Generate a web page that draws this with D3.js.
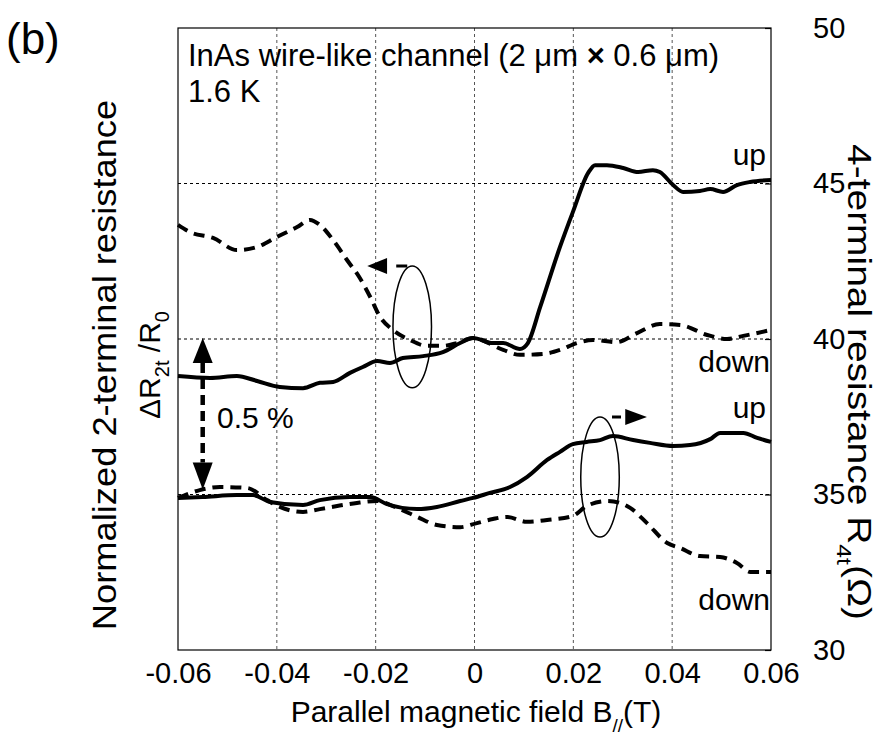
<!DOCTYPE html>
<html><head><meta charset="utf-8">
<script src="https://cdn.jsdelivr.net/npm/d3@7"></script>
<style>
html,body{margin:0;padding:0;background:#fff;}
svg{display:block;font-family:"Liberation Sans",Arial,sans-serif;}
</style></head>
<body>
<svg id="chart" width="887" height="748"></svg>
<script>
// ---- data ----
const xTicks = [-0.06, -0.04, -0.02, 0, 0.02, 0.04, 0.06];
const xTickLabels = ["-0.06", "-0.04", "-0.02", "0", "0.02", "0.04", "0.06"];
const rTicks = [30, 35, 40, 45, 50];
const rTickLabels = ["30", "35", "40", "45", "50"];

// 2-terminal (left axis, ΔR/R0 in %)
const twoUpB = [-0.060,-0.0535,-0.0481,-0.0440,-0.0394,-0.0347,-0.0313,-0.0286,-0.0252,-0.0226,-0.0197,-0.0171,-0.0145,-0.0104,-0.0064,-0.0029,-0.0003,0.0037,0.0058,0.0092,0.0108,0.0133,0.0173,0.0199,0.0230,0.0244,0.0268,0.0301,0.0331,0.0361,0.0375,0.0402,0.0422,0.0456,0.0477,0.0503,0.0531,0.0558,0.0600];
const twoUpR = [-0.119,-0.125,-0.119,-0.135,-0.154,-0.158,-0.141,-0.138,-0.109,-0.090,-0.071,-0.077,-0.061,-0.055,-0.042,-0.013,0.003,-0.013,-0.013,-0.032,-0.013,0.103,0.296,0.408,0.534,0.559,0.559,0.550,0.537,0.543,0.537,0.495,0.473,0.476,0.482,0.473,0.495,0.505,0.511];

const twoDownB = [-0.060,-0.0576,-0.0529,-0.0481,-0.0440,-0.0400,-0.0359,-0.0333,-0.0313,-0.0286,-0.0258,-0.0232,-0.0211,-0.0191,-0.0165,-0.0131,-0.0096,-0.0064,-0.0035,-0.0003,0.0058,0.0092,0.0139,0.0173,0.0207,0.0240,0.0288,0.0329,0.0375,0.0416,0.0471,0.0511,0.0544,0.0600];
const twoDownR = [0.367,0.344,0.325,0.286,0.296,0.328,0.360,0.383,0.367,0.318,0.254,0.196,0.135,0.071,0.029,-0.003,-0.022,-0.022,-0.013,0.003,-0.035,-0.051,-0.048,-0.035,-0.013,-0.003,-0.010,0.019,0.048,0.045,0.013,0.000,0.010,0.029];

// 4-terminal (right axis, Ω)
const fourUpB = [-0.060,-0.0550,-0.0481,-0.0448,-0.0414,-0.0347,-0.0313,-0.0252,-0.0211,-0.0177,-0.0116,-0.0076,-0.0029,-0.0003,0.0031,0.0072,0.0106,0.0147,0.0173,0.0199,0.0227,0.0254,0.0280,0.0321,0.0355,0.0402,0.0436,0.0477,0.0497,0.0544,0.0572,0.0600];
const fourUpR = [34.89,34.92,34.98,34.98,34.76,34.66,34.82,34.92,34.92,34.69,34.53,34.60,34.79,34.89,35.05,35.24,35.56,36.11,36.37,36.62,36.69,36.75,36.88,36.75,36.66,36.56,36.59,36.78,36.98,36.98,36.82,36.69];

const fourDownB = [-0.060,-0.0556,-0.0515,-0.0460,-0.0420,-0.0394,-0.0347,-0.0313,-0.0278,-0.0238,-0.0197,-0.0157,-0.0116,-0.0076,-0.0029,0.0005,0.0037,0.0066,0.0106,0.0147,0.0199,0.0227,0.0268,0.0294,0.0315,0.0349,0.0390,0.0416,0.0456,0.0497,0.0531,0.0558,0.0600];
const fourDownR = [34.89,35.14,35.24,35.21,34.82,34.60,34.44,34.53,34.63,34.73,34.79,34.57,34.28,34.02,33.95,34.08,34.21,34.28,34.12,34.18,34.31,34.63,34.79,34.73,34.57,34.08,33.44,33.28,33.02,32.99,32.80,32.51,32.51];

// ---- chart ----
const W = 887, H = 748;
const M = {left:178, right:116, top:28, bottom:98};
const svg = d3.select("#chart");
const x = d3.scaleLinear().domain([-0.06, 0.06]).range([M.left, W - M.right]);
const yR = d3.scaleLinear().domain([30, 50]).range([H - M.bottom, M.top]);
const yL = d3.scaleLinear().domain([-1, 1]).range([H - M.bottom, M.top]);

// grid
const g = svg.append("g");
g.selectAll("line.vg").data(xTicks.slice(1, -1)).enter().append("line")
  .attr("x1", d => x(d)).attr("x2", d => x(d))
  .attr("y1", M.top).attr("y2", H - M.bottom)
  .attr("stroke", "#555").attr("stroke-width", 1).attr("stroke-dasharray", "3,3");
g.selectAll("line.hg").data([35, 40, 45]).enter().append("line")
  .attr("x1", M.left).attr("x2", W - M.right)
  .attr("y1", d => yR(d)).attr("y2", d => yR(d))
  .attr("stroke", "#000").attr("stroke-width", 1).attr("stroke-dasharray", "3,3");

// frame
svg.append("rect").attr("x", M.left).attr("y", M.top)
  .attr("width", W - M.left - M.right).attr("height", H - M.top - M.bottom)
  .attr("fill", "none").attr("stroke", "#000").attr("stroke-width", 1.2);

// bottom axis
const xAxis = d3.axisBottom(x).tickValues(xTicks).tickFormat((d, i) => xTickLabels[i]).tickSize(0).tickPadding(12);
const gx = svg.append("g").attr("transform", `translate(0,${H - M.bottom})`).call(xAxis);
gx.select(".domain").remove();
gx.selectAll("text").attr("font-size", 29).attr("fill", "#000").attr("font-family", "Liberation Sans, Arial, sans-serif");

// right axis
const rAxis = d3.axisRight(yR).tickValues(rTicks).tickFormat((d, i) => rTickLabels[i]).tickSizeInner(-6).tickSizeOuter(0).tickPadding(42);
const gr = svg.append("g").attr("transform", `translate(${W - M.right},0)`).call(rAxis);
gr.select(".domain").remove();
gr.selectAll("line").attr("stroke", "#000").attr("stroke-width", 1.2);
gr.selectAll("text").attr("font-size", 29).attr("fill", "#000").attr("font-family", "Liberation Sans, Arial, sans-serif");

// curves
function draw(bs, vs, yS, dashed) {
  const pts = bs.map((b, i) => [b, vs[i]]);
  svg.append("path").datum(pts)
    .attr("d", d3.line().x(d => x(d[0])).y(d => yS(d[1])).curve(d3.curveMonotoneX))
    .attr("fill", "none").attr("stroke", "#000").attr("stroke-width", 4)
    .attr("stroke-linejoin", "round")
    .attr("stroke-dasharray", dashed ? "11,7" : null);
}
draw(twoDownB, twoDownR, yL, true);
draw(twoUpB, twoUpR, yL, false);
draw(fourDownB, fourDownR, yR, true);
draw(fourUpB, fourUpR, yR, false);

// annotations: ellipses + arrows
const ell1 = {b: -0.0126, v: 0.039, rb: 0.0039, rv: 0.196};   // left axis units
const arr1 = {base: -0.0177, tip: -0.0217};
const ell2 = {b: 0.0254, v: 35.56, rb: 0.0039, rv: 1.93};     // right axis units
const arr2 = {base: 0.0305, tip: 0.0349};
const dbl = {b: -0.055, top: 40.03, topBase: 39.23, bot: 35.16, botBase: 36.03};

function ellipse(cx, cy, rx, ry) {
  svg.append("ellipse").attr("cx", cx).attr("cy", cy).attr("rx", rx).attr("ry", ry)
    .attr("fill", "none").attr("stroke", "#000").attr("stroke-width", 1.5);
}
function tri(points) {
  svg.append("polygon").attr("points", points.map(p => p.join(",")).join(" ")).attr("fill", "#000");
}
// upper ellipse
{
  const cx = x(ell1.b), cy = yL(ell1.v), rx = x(ell1.b + ell1.rb) - cx, ry = cy - yL(ell1.v + ell1.rv);
  ellipse(cx, cy, rx, ry);
  const ty = cy - ry;
  svg.append("line").attr("x1", cx).attr("x2", x(arr1.base)).attr("y1", ty).attr("y2", ty)
    .attr("stroke", "#000").attr("stroke-width", 3).attr("stroke-dasharray", "0,5,11,20");
  tri([[x(arr1.tip), ty], [x(arr1.base), ty - 8], [x(arr1.base), ty + 8]]);
}
// lower ellipse
{
  const cx = x(ell2.b), cy = yR(ell2.v), rx = x(ell2.b + ell2.rb) - cx, ry = cy - yR(ell2.v + ell2.rv);
  ellipse(cx, cy, rx, ry);
  const ty = cy - ry;
  svg.append("line").attr("x1", cx).attr("x2", x(arr2.base)).attr("y1", ty).attr("y2", ty)
    .attr("stroke", "#000").attr("stroke-width", 3).attr("stroke-dasharray", "0,12,9,20");
  tri([[x(arr2.tip), ty], [x(arr2.base), ty - 8], [x(arr2.base), ty + 8]]);
}
// double arrow
{
  const ax = x(dbl.b);
  svg.append("line").attr("x1", ax).attr("x2", ax).attr("y1", yR(dbl.topBase)).attr("y2", yR(dbl.botBase))
    .attr("stroke", "#000").attr("stroke-width", 4.5).attr("stroke-dasharray", "10,6");
  tri([[ax, yR(dbl.top)], [ax - 10, yR(dbl.topBase)], [ax + 10, yR(dbl.topBase)]]);
  tri([[ax, yR(dbl.bot)], [ax - 10, yR(dbl.botBase)], [ax + 10, yR(dbl.botBase)]]);
}

// texts
function txt(s, tx, ty, size, anchor) {
  return svg.append("text").attr("x", tx).attr("y", ty).attr("font-size", size)
    .attr("text-anchor", anchor || "start").attr("fill", "#000").text(s);
}
txt("(b)", 6, 54, 44);
{
  const t = txt("", 188, 66, 31);
  t.append("tspan").text("InAs wire-like channel (2 μm ");
  t.append("tspan").attr("font-weight", "bold").text("×");
  t.append("tspan").text(" 0.6 μm)");
}
txt("1.6 K", 188, 102, 31);
txt("0.5 %", 217, 428, 30);
txt("up", 766, 165, 30, "end");
txt("down", 770, 372, 30, "end");
txt("up", 766, 418, 30, "end");
txt("down", 770, 610, 30, "end");

// x label
{
  const t = svg.append("text").attr("x", 476).attr("y", 722).attr("font-size", 30)
    .attr("text-anchor", "middle").attr("fill", "#000");
  t.append("tspan").text("Parallel magnetic field B");
  t.append("tspan").attr("font-size", 19).attr("dy", 10).text("//");
  t.append("tspan").attr("dy", -10).text("(T)");
}
// left label
{
  const gl = svg.append("g").attr("transform", "translate(116,365) rotate(-90)");
  gl.append("text").attr("x", 0).attr("y", 0).attr("font-size", 33).attr("text-anchor", "middle")
    .attr("transform", "scale(1.1,1)")
    .attr("fill", "#000").text("Normalized 2-terminal resistance");
  const t = gl.append("text").attr("x", 0).attr("y", 44).attr("font-size", 30).attr("text-anchor", "middle").attr("fill", "#000");
  t.append("tspan").text("ΔR");
  t.append("tspan").attr("font-size", 20).attr("dy", 9).text("2t");
  t.append("tspan").attr("dy", -9).text(" /R");
  t.append("tspan").attr("font-size", 20).attr("dy", 9).text("0");
}
// right label
{
  const gr2 = svg.append("g").attr("transform", "translate(848,382) rotate(90) scale(1.18,1)");
  const t = gr2.append("text").attr("x", 0).attr("y", 0).attr("font-size", 33).attr("text-anchor", "middle").attr("fill", "#000");
  t.append("tspan").text("4-terminal resistance R");
  t.append("tspan").attr("font-size", 21).attr("dy", 11).text("4t");
  t.append("tspan").attr("dy", -11).text("(Ω)");
}
</script>
</body></html>
